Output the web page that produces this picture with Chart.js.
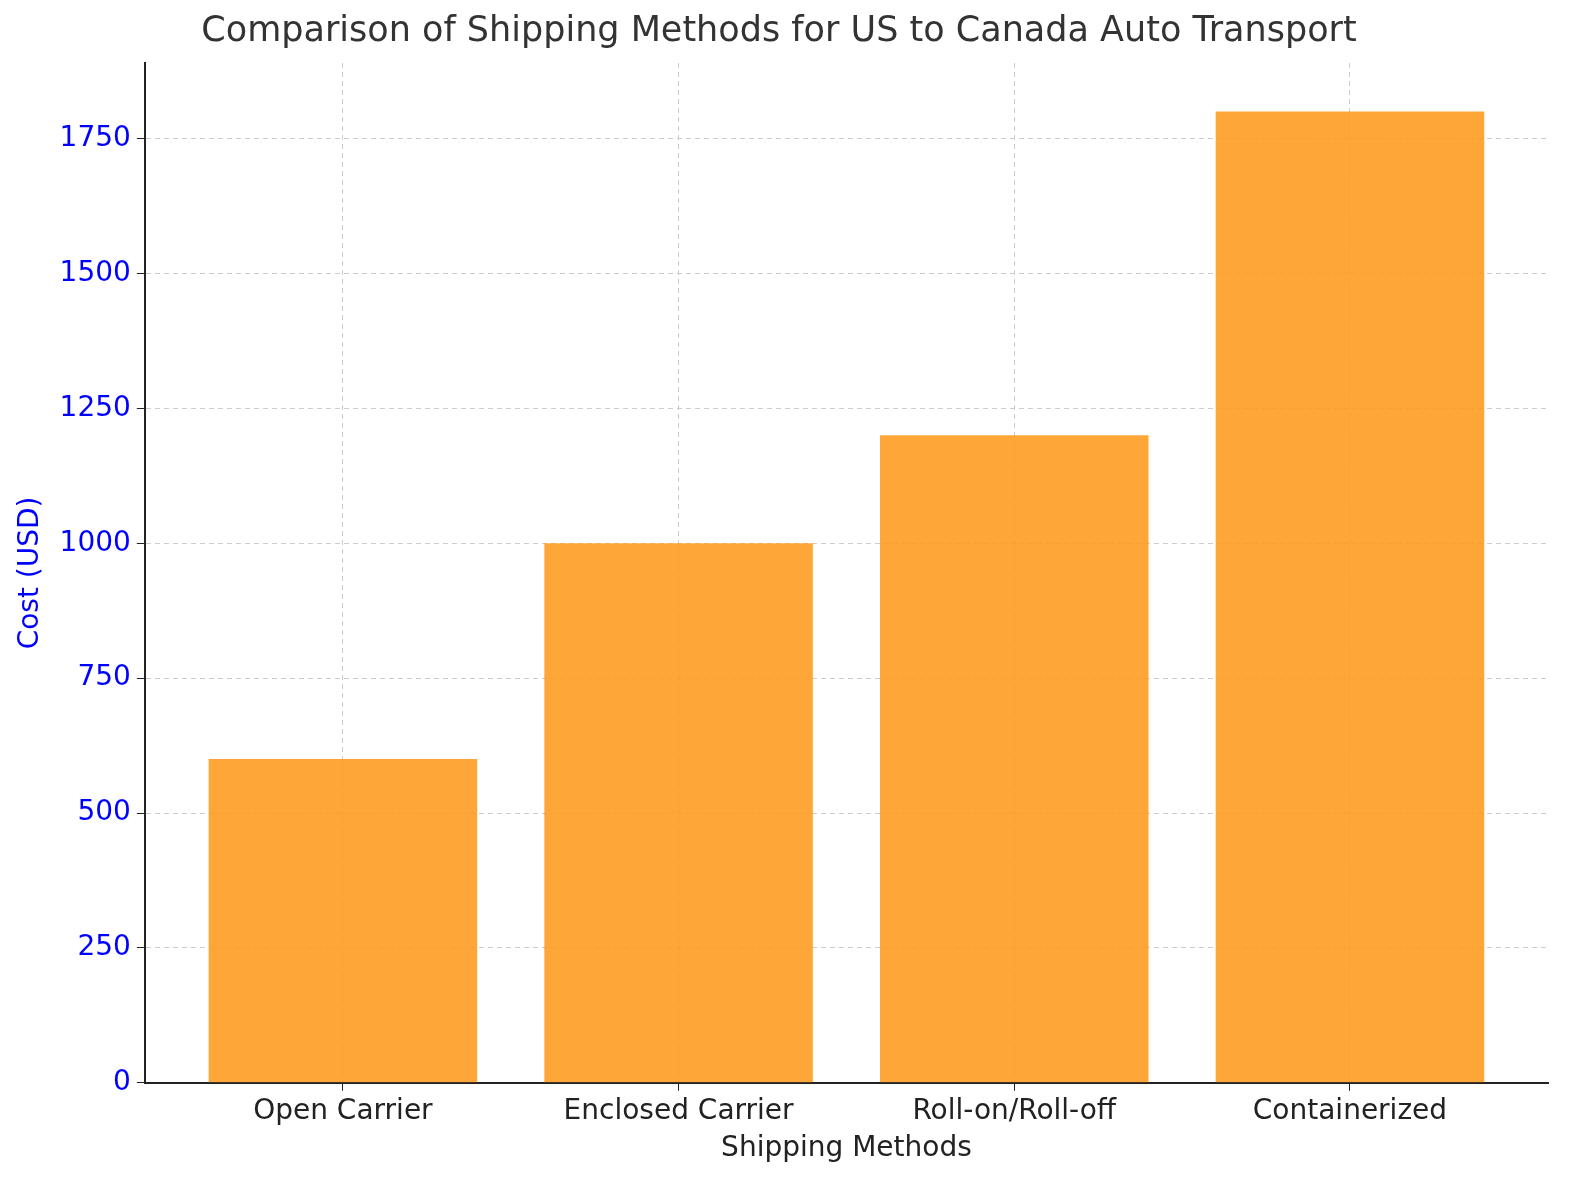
<!DOCTYPE html>
<html>
<head>
<meta charset="utf-8">
<script src="https://cdn.jsdelivr.net/npm/chart.js@4"></script>
<style>
  body { margin: 0; background: #fff; }
  #wrap { width: 1580px; height: 1180px; }
</style>
</head>
<body>
<div id="wrap"><canvas id="chart"></canvas></div>
<script>
// Chart data
const categories = ["Open Carrier", "Enclosed Carrier", "Roll-on/Roll-off", "Containerized"];
const costs = [600, 1000, 1200, 1800];
const yTicks = [0, 250, 500, 750, 1000, 1250, 1500, 1750];

const ctx = document.getElementById("chart").getContext("2d");
new Chart(ctx, {
  type: "bar",
  data: {
    datasets: [{
      data: costs.map((v, i) => ({ x: i, y: v })),
      backgroundColor: "rgba(255,153,28,0.87)",
      categoryPercentage: 0.8,
      barPercentage: 1.0,
    }],
  },
  options: {
    responsive: true,
    maintainAspectRatio: false,
    animation: false,
    layout: { padding: { left: 10, right: 32, top: 5, bottom: 10 } },
    plugins: {
      legend: { display: false },
      tooltip: { enabled: false },
      title: {
        display: true,
        text: "Comparison of Shipping Methods for US to Canada Auto Transport",
        color: "#333",
        font: { family: "DejaVu Sans", size: 35, weight: "normal" },
        padding: { top: 6, bottom: 10 },
      },
    },
    scales: {
      x: {
        type: "linear",
        offset: false,
        min: -0.59,
        max: 3.59,
        afterBuildTicks: axis => { axis.ticks = categories.map((_, i) => ({ value: i })); },
        ticks: {
          callback: v => categories[v],
          color: "#222",
          font: { family: "DejaVu Sans", size: 28 },
          maxRotation: 0,
          autoSkip: false,
          padding: 4,
        },
        grid: { color: "#ccc", tickColor: "#222", tickLength: 8, offset: false },
        border: { color: "#222", width: 2, dash: [5, 4] },
        title: {
          display: true,
          text: "Shipping Methods",
          color: "#222",
          font: { family: "DejaVu Sans", size: 28 },
          padding: { top: 0 },
        },
      },
      y: {
        min: 0,
        max: 1890,
        afterBuildTicks: axis => { axis.ticks = yTicks.map(v => ({ value: v })); },
        ticks: {
          callback: v => String(v),
          color: "blue",
          font: { family: "DejaVu Sans", size: 28 },
          padding: 6,
        },
        grid: { color: "#ccc", tickColor: "#222", tickLength: 8 },
        border: { color: "#222", width: 2, dash: [5, 4] },
        title: {
          display: true,
          text: "Cost (USD)",
          color: "blue",
          font: { family: "DejaVu Sans", size: 28 },
          padding: { bottom: 6 },
        },
      },
    },
  },
});
</script>
</body>
</html>
